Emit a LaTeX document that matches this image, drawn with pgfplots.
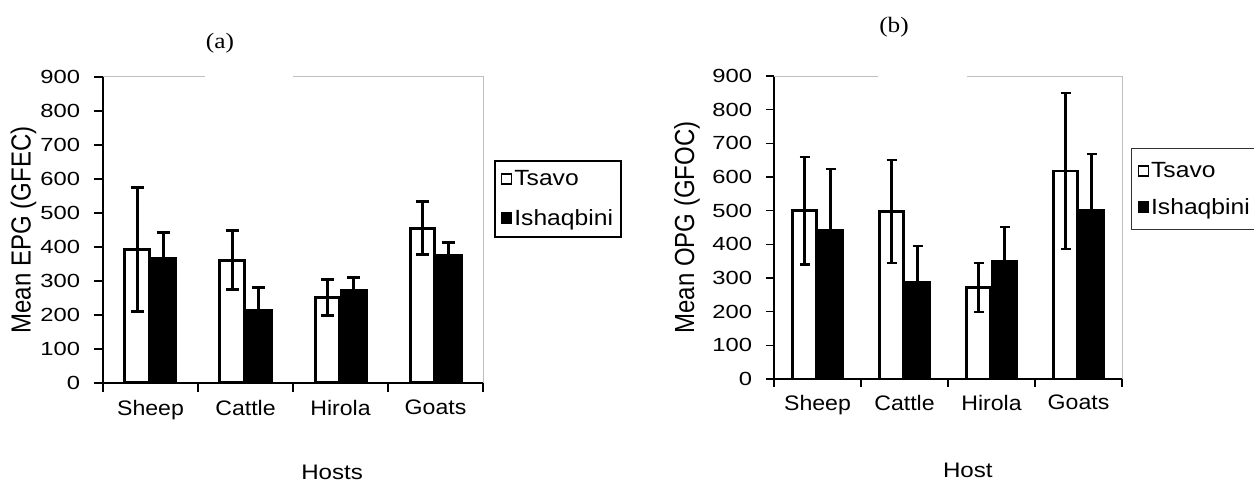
\documentclass[border=0pt]{standalone}
\usepackage{fontspec}
\setmainfont{Liberation Sans}
\newfontfamily\seriffont{Liberation Serif}
\usepackage{pgfplots}
\pgfplotsset{compat=1.18}
\newcommand{\fs}[1]{\fontsize{#1}{#1}\selectfont}
\pgfplotsset{
  panel/.style={
    scale only axis, clip=false,
    xmin=-0.5, xmax=3.5, ymin=0, ymax=900,
    ytick={0,100,...,900},
    xtick={-0.5,0.5,1.5,2.5,3.5},
    x tick label as interval,
    xticklabels={Sheep,Cattle,Hirola,Goats},
    axis lines*=left,
    tick align=outside,
    major tick length=9pt,
    /pgf/number format/assume math mode=true,
    yticklabel style={font=\fs{19}, xscale=1.25, inner sep=0pt, xshift=-11pt},
    xticklabel style={font=\fs{21}, xscale=1.1, inner sep=0pt, yshift=-8pt},
    legend cell align=left,
  },
  tsavo/.style={fill=white, draw=black,
    legend image code/.code={\draw[fill=white, draw=black, line width=1.3pt] (0pt,-5pt) rectangle (10pt,5pt);}},
  ishaq/.style={fill=black, draw=black,
    legend image code/.code={\draw[fill=black, draw=black, line width=1.3pt] (0pt,-5pt) rectangle (10pt,5pt);}},
}
\begin{document}
\begin{tikzpicture}
\useasboundingbox (0,0) rectangle (1254pt,482pt);
\clip (0,0) rectangle (1254pt,482pt);
% ---------- panel (a)
\begin{axis}[panel, at={(103pt,99pt)}, anchor=south west,
  width=380pt, height=306pt,
  ybar=2pt, bar width=24.5pt,
  axis line style={black, line width=1.5pt},
  tick style={black, line width=1.5pt},
  ylabel={Mean EPG (GFEC)}, ylabel style={font=\fs{24}, yscale=1.15, at={(axis description cs:-0.209,0.5)}, anchor=center},
  xlabel={Hosts}, xlabel style={font=\fs{21}, xscale=1.15, at={(axis description cs:0.603,-0.291)}, anchor=center},
  legend style={at={(axis description cs:1.029,0.729)}, anchor=north west, draw=black, line width=1.6pt,
    font=\fs{22}, row sep=18pt, inner xsep=6pt, inner ysep=8pt, nodes={inner sep=2pt, xscale=1.12}},
]
\addplot[tsavo, line width=3pt,
  error bars/.cd, y dir=both, y explicit,
  error bar style={line width=3pt, black},
  error mark options={rotate=90, mark size=6.5pt, line width=3pt, black}]
  coordinates {(0,393) +- (0,183) (1,361) +- (0,87) (2,252) +- (0,53) (3,455) +- (0,78)};
\addlegendentry{Tsavo}
\addplot[ishaq, line width=3pt,
  error bars/.cd, y dir=plus, y explicit,
  error bar style={line width=3pt, black},
  error mark options={rotate=90, mark size=6.5pt, line width=3pt, black}]
  coordinates {(0,365) +- (0,78) (1,212) +- (0,69) (2,271) +- (0,40) (3,374) +- (0,39)};
\addlegendentry{Ishaqbini}
\draw[black!25, line width=1pt] (rel axis cs:0,1) -- (rel axis cs:0.268,1);
\draw[black!25, line width=1pt] (rel axis cs:0.5,1) -- (rel axis cs:1,1) -- (rel axis cs:1,0);
\end{axis}
% ---------- panel (b)
\begin{axis}[panel, at={(774pt,103pt)}, anchor=south west,
  width=348pt, height=303pt,
  ybar=2pt, bar width=24pt,
  axis line style={black, line width=1.3pt},
  tick style={black, line width=1.3pt},
  major tick length=8pt,
  ylabel={Mean OPG (GFOC)}, ylabel style={font=\fs{24}, yscale=1.15, at={(axis description cs:-0.25,0.5)}, anchor=center},
  xlabel={Host}, xlabel style={font=\fs{21}, xscale=1.15, at={(axis description cs:0.557,-0.30)}, anchor=center},
  legend style={at={(axis description cs:1.026,0.762)}, anchor=north west, draw=black!80, line width=1.1pt,
    font=\fs{22}, row sep=15pt, inner xsep=6pt, inner ysep=12pt, nodes={inner sep=2pt, xscale=1.12}},
]
\addplot[tsavo, line width=2.4pt,
  error bars/.cd, y dir=both, y explicit,
  error bar style={line width=2.2pt, black},
  error mark options={rotate=90, mark size=5pt, line width=2.2pt, black}]
  coordinates {(0,500) +- (0,160) (1,497) +- (0,153) (2,272) +- (0,72) (3,618) +- (0,231)};
\addlegendentry{Tsavo}
\addplot[ishaq, line width=2.4pt,
  error bars/.cd, y dir=plus, y explicit,
  error bar style={line width=2.2pt, black},
  error mark options={rotate=90, mark size=5pt, line width=2.2pt, black}]
  coordinates {(0,442) +- (0,181) (1,289) +- (0,106) (2,350) +- (0,102) (3,502) +- (0,167)};
\addlegendentry{Ishaqbini}
\draw[black!25, line width=1pt] (rel axis cs:0,1) -- (rel axis cs:0.299,1);
\draw[black!25, line width=1pt] (rel axis cs:0.555,1) -- (rel axis cs:1,1) -- (rel axis cs:1,0);
\end{axis}
% ---------- panel titles
\node[font=\seriffont\fs{22}, xscale=1.15] at (220pt,439pt) {(a)};
\node[font=\seriffont\fs{22}, xscale=1.15] at (894pt,455pt) {(b)};
\end{tikzpicture}
\end{document}
